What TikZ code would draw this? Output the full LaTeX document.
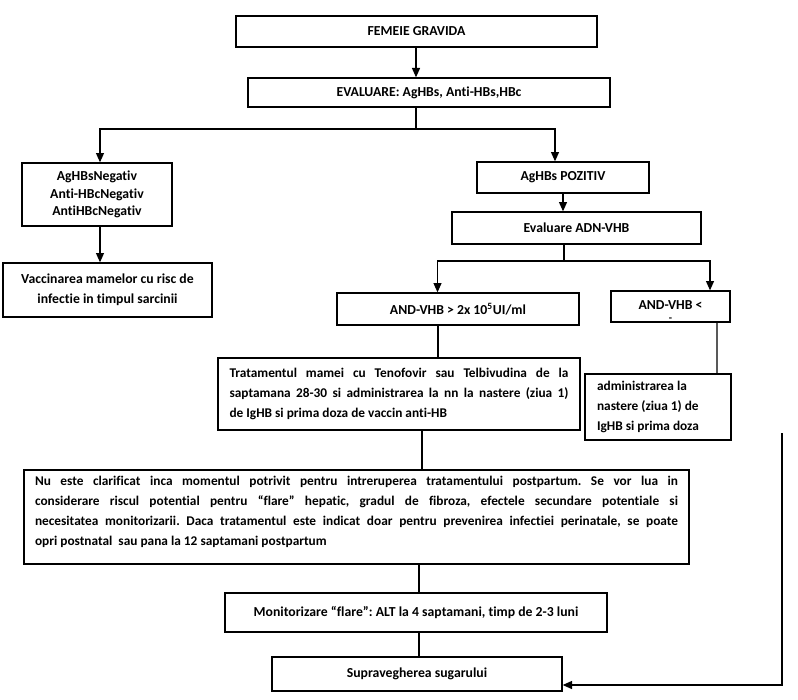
\documentclass[tikz,border=0pt]{standalone}
\usepackage{fontspec}
\setmainfont{Carlito}[Ligatures={NoCommon}]
\usetikzlibrary{arrows.meta}
\frenchspacing
\tikzset{
  box/.style={draw, line width=1pt, inner sep=0pt, font=\bfseries\fontsize{10.3}{15}\selectfont\frenchspacing, align=center},
  jbox/.style={box, font=\bfseries\fontsize{10}{15}\selectfont\frenchspacing},
  sz/.style 2 args={minimum width=#1*0.75pt, minimum height=#2*0.75pt},
  conn/.style={line width=0.9pt},
  arr/.style={conn, -{Triangle[length=7pt,width=6pt]}},
}
\begin{document}
\begin{tikzpicture}[x=0.75pt,y=-0.75pt]
\useasboundingbox (0,0) rectangle (798,699);
% boxes
\node[box, sz={361}{31}] (fem) at (416.5,31.5) {FEMEIE GRAVIDA};
\node[box, sz={362}{29}] (eval) at (429,92.5) {EVALUARE: AgHBs, Anti-HBs,HBc};
\node[box, sz={150}{63}, font=\bfseries\fontsize{10.3}{13}\selectfont] (neg) at (97,194.5) {AgHBsNegativ\\Anti-HBcNegativ\\AntiHBcNegativ};
\node[box, sz={209}{54}] (vac) at (107.5,290) {Vaccinarea mamelor cu risc de\\infectie in timpul sarcinii};
\node[box, sz={172}{31}] (poz) at (563,177.5) {AgHBs POZITIV};
\node[box, sz={249}{32}] (adn) at (576.5,228) {Evaluare ADN-VHB};
\node[box, sz={242}{32}] (gt) at (458,309) {AND-VHB > 2x 10\textsuperscript{5}UI/ml};
\node[box, sz={119}{31}] (lt) at (670.5,306.5) {\rule{0pt}{13pt}AND-VHB <\\[-6pt]{\fontsize{8}{8}\selectfont -}};
\node[jbox, sz={362}{72}] (trat) at (399,394) {\parbox{254.25pt}{%
\makebox[\linewidth][s]{Tratamentul mamei cu Tenofovir sau Telbivudina de la}\\
\makebox[\linewidth][s]{saptamana 28-30 si administrarea la nn la nastere (ziua 1)}\\
de IgHB si prima doza de vaccin anti-HB}};
\node[jbox, sz={146}{66}] (adm) at (658,407) {\parbox{91.5pt}{\raggedright
administrarea la\\nastere (ziua 1) de\\IgHB si prima doza}};
\node[jbox, sz={665}{94}] (big) at (356.5,517) {\parbox{482.25pt}{%
\makebox[\linewidth][s]{Nu este clarificat inca momentul potrivit pentru intreruperea tratamentului postpartum. Se vor lua in}\\
\makebox[\linewidth][s]{considerare riscul potential pentru “flare” hepatic, gradul de fibroza, efectele secundare potentiale si}\\
\makebox[\linewidth][s]{necesitatea monitorizarii. Daca tratamentul este indicat doar pentru prevenirea infectiei perinatale, se poate}\\
opri postnatal\ \ sau pana la 12 saptamani postpartum\rule[-9pt]{0pt}{9pt}}};
\node[box, sz={382}{39}] (mon) at (416,612.5) {Monitorizare “flare”: ALT la 4 saptamani, timp de 2-3 luni};
\node[box, sz={290}{34}] (sup) at (417,674) {Supravegherea sugarului};
% helper coordinates
\coordinate (s1) at (416,129);
\coordinate (xl) at (100,0);
\coordinate (xr) at (555,0);
\coordinate (xp) at (563,0);
\coordinate (s2) at (564,261);
\coordinate (xg) at (437.5,0);
\coordinate (xlt) at (710,0);
\coordinate (xt) at (438,0);
\coordinate (xa) at (717,0);
\coordinate (xb) at (422,0);
\coordinate (xm) at (419,0);
\coordinate (r0) at (782,433);
\coordinate (ya) at (0,685);
% connectors
\draw[arr] (fem.south -| s1) -- (eval.north -| s1);
\draw[conn] (eval.south -| s1) -- (s1);
\draw[arr] (s1) -| (neg.north -| xl);
\draw[arr] (s1) -| (poz.north -| xr);
\draw[arr] (neg.south -| xl) -- (vac.north -| xl);
\draw[arr] (poz.south -| xp) -- (adn.north -| xp);
\draw[conn] (adn.south -| s2) -- (s2);
\draw[arr] (s2) -| (gt.north -| xg);
\draw[arr] (s2) -| (lt.north -| xlt);
\draw[conn] (gt.south -| xt) -- (trat.north -| xt);
\draw[conn, gray!70!black] (lt.south -| xa) -- (adm.north -| xa);
\draw[conn] (trat.south -| xb) -- (big.north -| xb);
\draw[conn] (big.south -| xm) -- (mon.north -| xm);
\draw[conn] (mon.south -| xm) -- (sup.north -| xm);
\draw[arr] (r0) |- (sup.east |- ya);
\end{tikzpicture}
\end{document}
